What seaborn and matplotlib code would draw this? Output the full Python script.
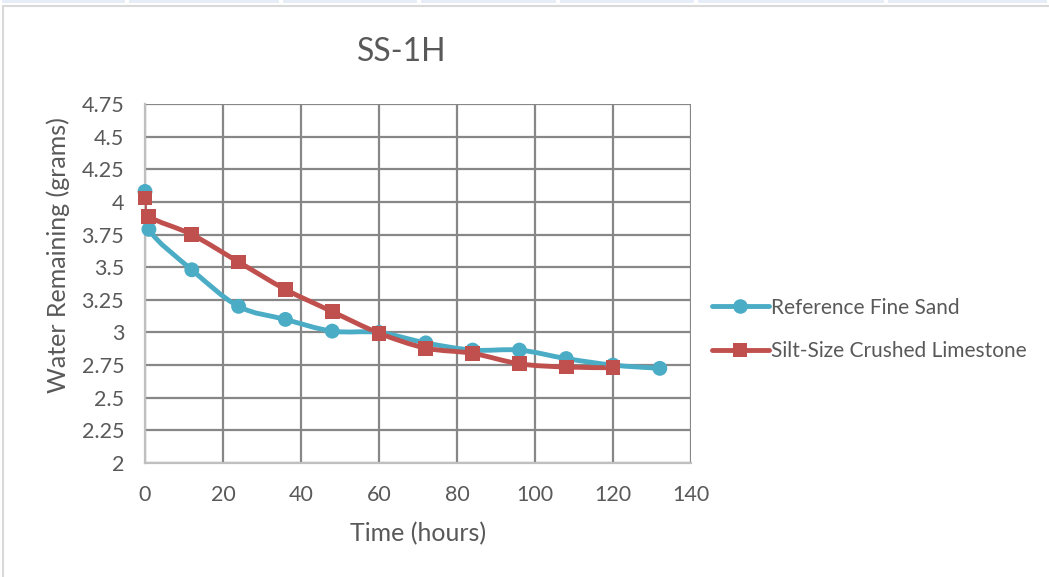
import numpy as np
import pandas as pd
import seaborn as sns
import matplotlib
matplotlib.use("Agg")
import matplotlib.pyplot as plt
from matplotlib.path import Path
from matplotlib.patches import PathPatch, Rectangle
from matplotlib.lines import Line2D

# Drying data: hours elapsed vs. grams of water remaining
sand_hours = [0, 1, 12, 24, 36, 48, 60, 72, 84, 96, 108, 120, 132]
sand_water = [4.08, 3.79, 3.48, 3.20, 3.10, 3.01, 3.00, 2.92, 2.865, 2.865, 2.80, 2.75, 2.725]

lime_hours = [0, 1, 12, 24, 36, 48, 60, 72, 84, 96, 108, 120]
lime_water = [4.03, 3.89, 3.75, 3.54, 3.33, 3.16, 2.995, 2.88, 2.84, 2.76, 2.735, 2.73]

series_names = ["Reference Fine Sand", "Silt-Size Crushed Limestone"]
series_colors = ["#4BACC6", "#C0504D"]
series_markers = ["o", "s"]

title_text = "SS-1H"
x_label = "Time (hours)"
y_label = "Water Remaining (grams)"
x_ticks = [0, 20, 40, 60, 80, 100, 120, 140]
y_ticks = [2, 2.25, 2.5, 2.75, 3, 3.25, 3.5, 3.75, 4, 4.25, 4.5, 4.75]
y_tick_labels = ["2", "2.25", "2.5", "2.75", "3", "3.25", "3.5", "3.75", "4", "4.25", "4.5", "4.75"]

df = pd.concat([
    pd.DataFrame({"hours": sand_hours, "water": sand_water, "series": series_names[0]}),
    pd.DataFrame({"hours": lime_hours, "water": lime_water, "series": series_names[1]}),
], ignore_index=True)

sns.set_theme(style="white")
plt.rcParams["font.family"] = ["Lato", "DejaVu Sans"]
text_gray = "#595959"
grid_gray = "#878787"
spine_gray = "#BFBFBF"

W, H = 1049, 577
fig = plt.figure(figsize=(W / 100, H / 100), dpi=100)
fig.patch.set_facecolor("white")

# Header strip of table cells above the chart frame
cell_edges = [0, 127, 281, 419, 558, 696, 886, 1049]
for a, b in zip(cell_edges[:-1], cell_edges[1:]):
    fig.patches.append(Rectangle((a / W + 2 / W, 1 - 3 / H), (b - a - 4) / W, 3 / H,
                                 transform=fig.transFigure, facecolor="#E7EDF6",
                                 edgecolor="none", zorder=0))
# Chart frame
fig.patches.append(Rectangle((3 / W, -0.1), 1.2, 1 - 6 / H + 0.1, transform=fig.transFigure,
                             facecolor="none", edgecolor="#D9D9D9", linewidth=1.5, zorder=0))

ax = fig.add_axes([145 / W, 1 - 463 / H, (691 - 145) / W, (463 - 104) / H])


def smooth_path(xs, ys):
    # Cardinal-spline style Bezier through the data points (smoothed line)
    pts = np.column_stack([xs, ys]).astype(float)
    n = len(pts)
    verts = [pts[0]]
    codes = [Path.MOVETO]
    for i in range(n - 1):
        p0 = pts[max(i - 1, 0)]
        p1 = pts[i]
        p2 = pts[i + 1]
        p3 = pts[min(i + 2, n - 1)]
        c1 = p1 + (p2 - p0) / 6.0
        c2 = p2 - (p3 - p1) / 6.0
        verts += [c1, c2, p2]
        codes += [Path.CURVE4] * 3
    return Path(verts, codes)


for name, color, mk in zip(series_names, series_colors, series_markers):
    sub = df[df["series"] == name]
    ax.add_patch(PathPatch(smooth_path(sub["hours"].values, sub["water"].values),
                           facecolor="none", edgecolor=color, linewidth=3.5,
                           capstyle="round", joinstyle="round", zorder=3))

sns.scatterplot(data=df, x="hours", y="water", hue="series", style="series",
                palette=dict(zip(series_names, series_colors)),
                markers=dict(zip(series_names, series_markers)),
                s=115, linewidth=0, ax=ax, legend=False, zorder=4, clip_on=False)

ax.set_xlim(0, 140)
ax.set_ylim(2, 4.75)
ax.set_xticks(x_ticks)
ax.set_yticks(y_ticks)
ax.set_yticklabels(y_tick_labels)
ax.grid(True, color=grid_gray, linewidth=1.6)
ax.set_axisbelow(True)
for side in ["top", "right"]:
    ax.spines[side].set_visible(False)
for side in ["left", "bottom"]:
    ax.spines[side].set_color(spine_gray)
    ax.spines[side].set_linewidth(1.6)
    ax.spines[side].set_zorder(2.5)
ax.tick_params(axis="both", length=0, labelsize=15.5, colors=text_gray)
ax.tick_params(axis="y", pad=15)
ax.tick_params(axis="x", pad=16)

ax.set_xlabel(x_label, fontsize=18, color=text_gray, labelpad=12)
ax.set_ylabel(y_label, fontsize=18, color=text_gray)
ax.yaxis.set_label_coords(-0.137, 0.579)
fig.text(402 / W, 1 - 52 / H, title_text, fontsize=23, color=text_gray,
         ha="center", va="center")

handles = [Line2D([0], [0], color=c, lw=3.5, marker=m, markersize=10.5,
                  markeredgewidth=0, solid_capstyle="round")
           for c, m in zip(series_colors, series_markers)]
fig.legend(handles, series_names, loc="center left",
           bbox_to_anchor=(704 / W, 1 - 329.5 / H), frameon=False,
           fontsize=15, labelcolor=text_gray, handlelength=2.7,
           handletextpad=0.1, labelspacing=1.15, borderaxespad=0)

fig.savefig("out.png", dpi=100, facecolor="white")
